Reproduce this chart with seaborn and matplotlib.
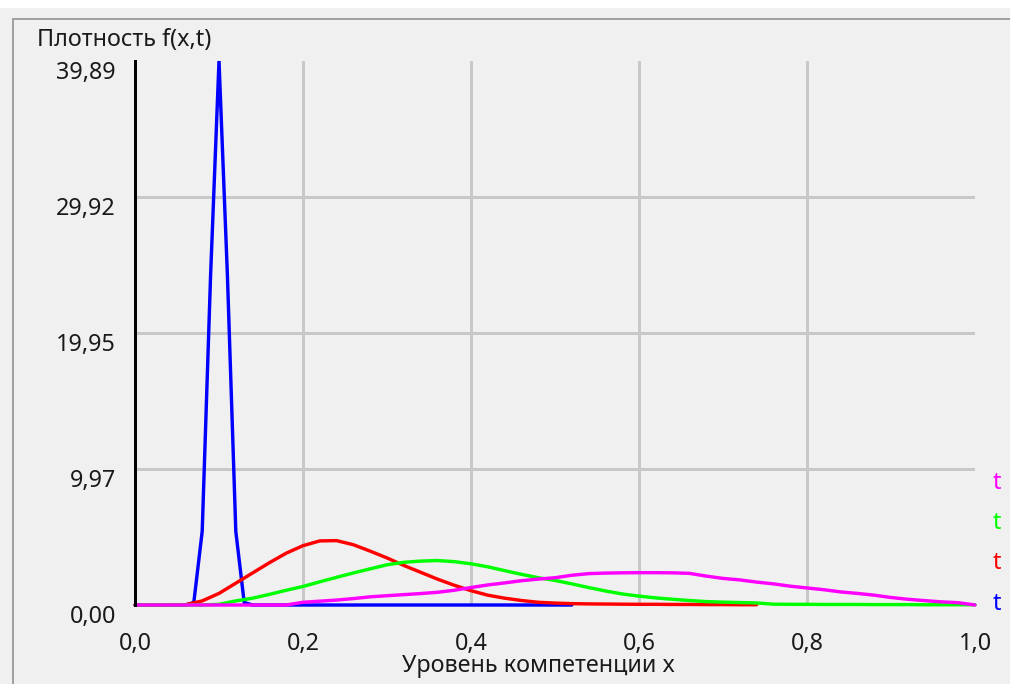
import numpy as np
import pandas as pd
import matplotlib
matplotlib.use('Agg')
import matplotlib.pyplot as plt
import seaborn as sns
from matplotlib.patches import Rectangle
from matplotlib.lines import Line2D

# --- data ----------------------------------------------------------------
x_grid = np.round(np.linspace(0, 1, 51), 2)      # step 0.02
x_blue = np.round(np.linspace(0, 0.52, 53), 2)   # step 0.01

f_blue = [0, 0, 0, 0, 0, 0, 0, 0.18, 5.4, 24.2, 39.89, 24.2, 5.4, 0.18,
          0, 0, 0, 0, 0, 0, 0, 0, 0, 0, 0, 0, 0, 0, 0, 0, 0, 0, 0, 0, 0, 0,
          0, 0, 0, 0, 0, 0, 0, 0, 0, 0, 0, 0, 0, 0, 0, 0, 0]

f_red = [0, 0, 0, 0.02, 0.3, 0.85, 1.6, 2.35, 3.1, 3.8, 4.35, 4.7, 4.72,
         4.42, 3.95, 3.45, 2.9, 2.4, 1.9, 1.45, 1.05, 0.72, 0.5, 0.33, 0.2,
         0.14, 0.1, 0.08, 0.07, 0.06, 0.05, 0.05, 0.04, 0.04, 0.03, 0.03,
         0.02, 0.02]

f_green = [0, 0, 0, 0, 0, 0.05, 0.3, 0.5, 0.78, 1.08, 1.36, 1.7, 2.03, 2.35,
           2.65, 2.95, 3.13, 3.22, 3.26, 3.18, 3.02, 2.8, 2.52, 2.25, 2.0,
           1.8, 1.55, 1.28, 1.03, 0.81, 0.65, 0.52, 0.42, 0.33, 0.25, 0.21,
           0.18, 0.15, 0.06, 0.05, 0.05, 0.04, 0.04, 0.04, 0.03, 0.03, 0.03,
           0.02, 0.02, 0.02, 0.02]

f_magenta = [0, 0, 0, 0, 0, 0, 0, 0, 0, 0, 0.2, 0.28, 0.36, 0.47, 0.6, 0.68,
             0.76, 0.84, 0.93, 1.08, 1.28, 1.47, 1.62, 1.78, 1.9, 2.0, 2.18,
             2.3, 2.34, 2.36, 2.37, 2.37, 2.36, 2.32, 2.12, 1.95, 1.84, 1.68,
             1.55, 1.38, 1.25, 1.12, 0.96, 0.85, 0.72, 0.55, 0.42, 0.32, 0.23,
             0.17, 0.0]

y_ticks = [0, 9.97, 19.95, 29.92, 39.89]
y_labels = ['0,00', '9,97', '19,95', '29,92', '39,89']
x_ticks = [0, 0.2, 0.4, 0.6, 0.8, 1.0]
x_labels = ['0,0', '0,2', '0,4', '0,6', '0,8', '1,0']
series = ['blue', 'red', 'green', 'magenta']
colors = {'blue': '#0000ff', 'red': '#ff0000', 'green': '#00ff00', 'magenta': '#ff00ff'}
legend_txt = ['t', 't', 't', 't']   # top to bottom: magenta, green, red, blue


df = pd.concat([
    pd.DataFrame({'x': x_blue, 'f': f_blue, 's': 'blue'}),
    pd.DataFrame({'x': x_grid[:len(f_red)], 'f': f_red, 's': 'red'}),
    pd.DataFrame({'x': x_grid, 'f': f_green, 's': 'green'}),
    pd.DataFrame({'x': x_grid, 'f': f_magenta, 's': 'magenta'}),
], ignore_index=True)

sns.set_style('white')
plt.rcParams['font.family'] = ['Noto Sans', 'DejaVu Sans']
BG = '#f0f0f0'
TXT = '#1a1a1a'
FS = 16.8
PX = 72 / 100  # points per pixel

fig = plt.figure(figsize=(10.1, 6.84), dpi=100, facecolor=BG)
W, H = 1010, 684
ax = fig.add_axes([135 / W, (H - 605) / H, 840 / W, 544 / H])
ax.set_facecolor('none')

sns.lineplot(data=df, x='x', y='f', hue='s', hue_order=series, palette=colors,
             estimator=None, sort=False, linewidth=3.4 * PX, legend=False, ax=ax)
for ln in ax.lines:
    ln.set_clip_on(False)
    ln.set_solid_joinstyle('miter')

ax.set_xlim(0, 1)
ax.set_ylim(0, 39.89)
ax.set_xticks(x_ticks)
ax.set_xticklabels(x_labels)
ax.set_yticks(y_ticks)
ax.set_yticklabels(y_labels)
ax.set_xlabel('')
ax.set_ylabel('')
for sp in ['top', 'right', 'bottom']:
    ax.spines[sp].set_visible(False)
ax.spines['left'].set_color('black')
ax.spines['left'].set_linewidth(3 * PX)
ax.tick_params(axis='x', length=12 * PX, width=3 * PX, color='black',
               direction='out', pad=15 * PX, labelsize=FS, labelcolor=TXT)
ax.tick_params(axis='y', length=5 * PX, width=3 * PX, color='black',
               direction='out', pad=14 * PX, labelsize=FS, labelcolor=TXT)
for lab in ax.get_yticklabels():
    lab.set_va('top')

ax.grid(True, color='#c8c8c8', linewidth=3 * PX)
ax.set_axisbelow(True)
xg = ax.xaxis.get_gridlines()
xg[0].set_visible(False)
xg[-1].set_visible(False)
yg = ax.yaxis.get_gridlines()
yg[0].set_visible(False)
yg[-1].set_visible(False)

# window decoration
fig.patches.append(Rectangle((0, 1 - 8 / H), 1, 8 / H, transform=fig.transFigure,
                             facecolor='white', edgecolor='none', zorder=0))
fig.lines.append(Line2D([13 / W, 13 / W], [0, 1 - 19 / H], transform=fig.transFigure,
                        color='#a0a0a0', linewidth=2 * PX))
fig.lines.append(Line2D([13 / W, 1], [1 - 19 / H, 1 - 19 / H], transform=fig.transFigure,
                        color='#a0a0a0', linewidth=2 * PX))

fig.text(37 / W, 1 - 40 / H, 'Плотность f(x,t)', ha='left', va='center',
         fontsize=FS, color=TXT)
fig.text(538 / W, 1 - 666 / H, 'Уровень компетенции x', ha='center', va='center',
         fontsize=FS, color=TXT)

leg_colors = ['magenta', 'green', 'red', 'blue']
leg_y = [483, 523, 563, 604]
for t, c, yy in zip(legend_txt, leg_colors, leg_y):
    fig.text(997 / W, 1 - yy / H, t, ha='center', va='center', fontsize=FS,
             color=colors[c])

fig.savefig('out.png', dpi=100, facecolor=BG)
